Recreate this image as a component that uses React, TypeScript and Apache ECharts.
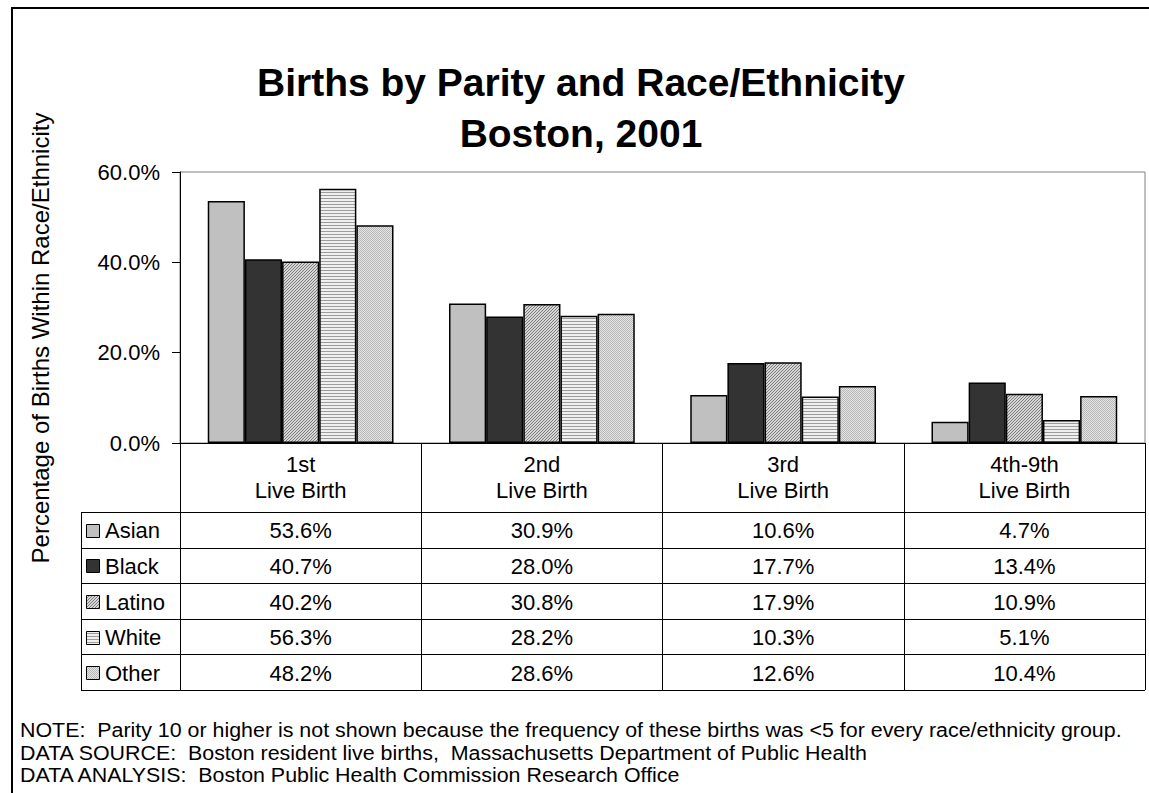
import React, { useEffect, useRef } from "react";
import * as echarts from "echarts";

const categories = ["1st\nLive Birth", "2nd\nLive Birth", "3rd\nLive Birth", "4th-9th\nLive Birth"];
const groups = ["Asian", "Black", "Latino", "White", "Other"];
const asian = [53.6, 30.9, 10.6, 4.7];
const black = [40.7, 28.0, 17.7, 13.4];
const latino = [40.2, 30.8, 17.9, 10.9];
const white = [56.3, 28.2, 10.3, 5.1];
const other = [48.2, 28.6, 12.6, 10.4];
const seriesValues = [asian, black, latino, white, other];
const titleLines = ["Births by Parity and Race/Ethnicity", "Boston, 2001"];
const yAxisTitle = "Percentage of Births Within Race/Ethnicity";
const footnotes = [
  "NOTE:  Parity 10 or higher is not shown because the frequency of these births was <5 for every race/ethnicity group.",
  "DATA SOURCE:  Boston resident live births,  Massachusetts Department of Public Health",
  "DATA ANALYSIS:  Boston Public Health Commission Research Office",
];

function makeTile(kind: string): HTMLCanvasElement {
  const c = document.createElement("canvas");
  const ctx = c.getContext("2d")!;
  if (kind === "latino") {
    c.width = 3; c.height = 3;
    for (let y = 0; y < 3; y++)
      for (let x = 0; x < 3; x++) {
        ctx.fillStyle = (x + y) % 3 === 0 ? "#7c7c7c" : "#d6d6d6";
        ctx.fillRect(x, y, 1, 1);
      }
  } else if (kind === "white") {
    c.width = 2; c.height = 3;
    ctx.fillStyle = "#f0f0f0"; ctx.fillRect(0, 0, 2, 3);
    ctx.fillStyle = "#9c9c9c"; ctx.fillRect(0, 0, 2, 1);
  } else {
    c.width = 2; c.height = 2;
    ctx.fillStyle = "#e4e4e4"; ctx.fillRect(0, 0, 2, 2);
    ctx.fillStyle = "#b8b8b8"; ctx.fillRect(0, 0, 1, 1); ctx.fillRect(1, 1, 1, 1);
  }
  return c;
}

export default function App() {
  const ref = useRef<HTMLDivElement>(null);
  useEffect(() => {
    const chart = echarts.init(ref.current!, null, { renderer: "svg" });
    const fills: any[] = [
      "#c0c0c0",
      "#333333",
      { image: makeTile("latino"), repeat: "repeat" },
      { image: makeTile("white"), repeat: "repeat" },
      { image: makeTile("other"), repeat: "repeat" },
    ];
    const gl = 180, gt = 172, gw = 965, gh = 271;
    const colW = gw / categories.length;
    const rowTop = 512, rowH = 35.6, legLeft = 81;
    const font = "Liberation Sans, Arial, sans-serif";
    const g: any[] = [];
    g.push({ type: "line", shape: { x1: 11, y1: 8, x2: 1149, y2: 8 }, style: { stroke: "#000", lineWidth: 2 } });
    g.push({ type: "line", shape: { x1: 12, y1: 7, x2: 12, y2: 793 }, style: { stroke: "#000", lineWidth: 2 } });
    titleLines.forEach((t, i) =>
      g.push({ type: "text", x: 581, y: 82 + i * 51, style: { text: t, fontSize: 39, fontWeight: "bold", fontFamily: font, fill: "#000", textAlign: "center", textVerticalAlign: "middle" } })
    );
    g.push({ type: "text", x: 40, y: 338, rotation: Math.PI / 2, style: { text: yAxisTitle, fontSize: 24, fontFamily: font, fill: "#000", textAlign: "center", textVerticalAlign: "middle" } });
    for (let r = 0; r <= groups.length; r++) {
      const y = Math.round(rowTop + r * rowH) + 0.5;
      g.push({ type: "line", shape: { x1: legLeft, y1: y, x2: gl + gw, y2: y }, style: { stroke: "#000", lineWidth: 1 } });
    }
    g.push({ type: "line", shape: { x1: legLeft + 0.5, y1: rowTop, x2: legLeft + 0.5, y2: rowTop + groups.length * rowH }, style: { stroke: "#000", lineWidth: 1 } });
    groups.forEach((name, r) => {
      const cy = rowTop + r * rowH + rowH / 2;
      g.push({ type: "rect", shape: { x: 86.5, y: Math.round(cy - 6) + 0.5, width: 13, height: 13 }, style: { fill: fills[r], stroke: "#000", lineWidth: 1 } });
      g.push({ type: "text", x: 105, y: cy + 1, style: { text: name, fontSize: 22, fontFamily: font, fill: "#000", textAlign: "left", textVerticalAlign: "middle" } });
      seriesValues[r].forEach((v, c) => {
        g.push({ type: "text", x: gl + colW * (c + 0.5), y: cy + 1, style: { text: v.toFixed(1) + "%", fontSize: 22, fontFamily: font, fill: "#000", textAlign: "center", textVerticalAlign: "middle" } });
      });
    });
    footnotes.forEach((t, i) =>
      g.push({ type: "text", x: 20, y: 730 + i * 22.5, scaleX: 1.07, style: { text: t, fontSize: 20, fontFamily: font, fill: "#000", textAlign: "left", textVerticalAlign: "middle" } })
    );

    chart.setOption({
      animation: false,
      backgroundColor: "#fff",
      textStyle: { fontFamily: font },
      grid: { left: gl, top: gt, width: gw, height: gh, show: true, borderColor: "#808080", borderWidth: 1, backgroundColor: "#fff" },
      xAxis: {
        type: "category",
        data: categories,
        axisLine: { show: true, lineStyle: { color: "#000", width: 1 } },
        axisTick: { show: true, length: rowTop + groups.length * rowH - (gt + gh), lineStyle: { color: "#000", width: 1 } },
        axisLabel: { fontSize: 22, lineHeight: 26, margin: 8, color: "#000", fontFamily: font },
      },
      yAxis: {
        type: "value",
        min: 0,
        max: 60,
        interval: 20,
        splitLine: { show: false },
        axisLine: { show: true, lineStyle: { color: "#000", width: 1 } },
        axisTick: { show: true, length: 8, lineStyle: { color: "#000" } },
        axisLabel: { fontSize: 22, margin: 20, color: "#000", fontFamily: font, formatter: (v: number) => v.toFixed(1) + "%" },
      },
      series: groups.map((name, i) => ({
        type: "bar",
        name,
        data: seriesValues[i],
        barGap: "0%",
        barCategoryGap: "23%",
        itemStyle: { color: fills[i], borderColor: "#000", borderWidth: 1.5 },
      })),
      graphic: g,
    });
    return () => chart.dispose();
  }, []);
  return <div ref={ref} style={{ position: "fixed", left: 0, top: 0, width: 1149, height: 793 }} />;
}
